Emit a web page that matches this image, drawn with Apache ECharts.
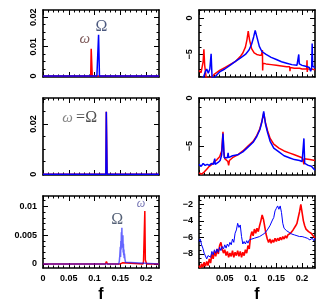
<!DOCTYPE html>
<html><head><meta charset="utf-8">
<script src="https://cdn.jsdelivr.net/npm/echarts@6/dist/echarts.min.js"></script>
<style>html,body{margin:0;padding:0;background:#fff}#c{width:334px;height:304px}</style>
</head><body><div id="c"></div>
<script>
// ---------- tick values / labels ----------
const xMajor = [0, 0.05, 0.1, 0.15, 0.2];
const xMinor = [0.01,0.02,0.03,0.04,0.06,0.07,0.08,0.09,0.11,0.12,0.13,0.14,0.16,0.17,0.18,0.19,0.21,0.22];
const xLabelsLeft = [0, 0.05, 0.1, 0.15, 0.2];
const xLabelsRight = [0.05, 0.1, 0.15, 0.2];

const tlYMajor = [0, 0.01, 0.02];
const tlYMinor = [0.0025, 0.005, 0.0075, 0.0125, 0.015, 0.0175];
const mlYMajor = [0, 0.02];
const mlYMinor = [0.005, 0.01, 0.015, 0.025, 0.03];
const blYMajor = [0, 0.005, 0.01];
const blYMinor = [0.001,0.002,0.003,0.004,0.006,0.007,0.008,0.009,0.011];
const trYMajor = [0, -5];
const trYMinor = [1, -1, -2, -3, -4, -6, -7, -8];
const mrYMajor = [0, -5];
const mrYMinor = [-1, -2, -3, -4, -6, -7];
const brYMajor = [-2, -4, -6, -8];
const brYMinor = [-1.5, -2.5, -3, -3.5, -4.5, -5, -5.5, -6.5, -7, -7.5, -8.5, -9, -9.5];

// ---------- series data ----------
// top-left (linear power)
const tlRedF  = [0, 0.0925, 0.0935, 0.0945, 0.0955, 0.225];
const tlRedV  = [0, 0, 0.0093, 0.0093, 0, 0];
const tlBlueF = [0, 0.1045, 0.105, 0.1055, 0.107, 0.1078, 0.1085, 0.1095, 0.225];
const tlBlueV = [0, 0, 0.0006, 0, 0, 0.0141, 0.0141, 0, 0];
// middle-left
const mlRedF  = [0, 0.122, 0.1228, 0.1235, 0.1243, 0.225];
const mlRedV  = [0, 0, 0.0248, 0.0248, 0, 0];
const mlBlueF = [0, 0.122, 0.1228, 0.1235, 0.1243, 0.225];
const mlBlueV = [0, 0, 0.0248, 0.0248, 0, 0];
// bottom-left
const blRedF  = [0, 0.121, 0.122, 0.123, 0.124, 0.125, 0.15, 0.152, 0.154, 0.156, 0.194, 0.195, 0.196, 0.197, 0.1975, 0.198, 0.1985, 0.199, 0.2, 0.201, 0.225];
const blRedV  = [0, 0, 0.0002, 0.0004, 0.0002, 0, 0, 0.0002, 0.0002, 0, 0, 0.0005, 0.0006, 0.0007, 0.0092, 0.0092, 0.0007, 0.0006, 0.0005, 0, 0];
const blBlueF = [0, 0.147, 0.148, 0.149, 0.15, 0.1505, 0.151, 0.1515, 0.152, 0.1525, 0.153, 0.1535, 0.154, 0.1545, 0.155, 0.1555, 0.156, 0.1565, 0.157, 0.1575, 0.158, 0.159, 0.16, 0.161, 0.225];
const blBlueV = [0, 0, 0.0005, 0.0015, 0.003, 0.0012, 0.004, 0.0025, 0.0055, 0.0035, 0.0063, 0.003, 0.0048, 0.0028, 0.005, 0.002, 0.0035, 0.0015, 0.0025, 0.001, 0.0018, 0.0008, 0.0003, 0, 0];

// top-right (log power)
const trRedF = [0, 0.004, 0.008, 0.0095, 0.011, 0.014, 0.018, 0.022, 0.026, 0.03, 0.04, 0.05, 0.06, 0.07, 0.08, 0.085, 0.09, 0.093, 0.0955, 0.098, 0.102, 0.107, 0.112, 0.117, 0.121, 0.123, 0.1235, 0.124, 0.126, 0.13, 0.14, 0.15, 0.16, 0.17, 0.176, 0.1765, 0.177, 0.178, 0.185, 0.195, 0.2, 0.205, 0.209, 0.2095, 0.21, 0.2105, 0.211, 0.218, 0.225];
const trRedV = [-7.2, -7.5, -6.0, -4.3, -6.5, -8.2, -8.3, -8.2, -8.0, -7.7, -7.2, -6.8, -6.4, -6.0, -5.3, -4.8, -4.0, -3.0, -1.8, -3.0, -4.2, -4.8, -5.0, -5.1, -5.1, -4.4, -7.2, -6.2, -6.2, -6.3, -6.4, -6.5, -6.6, -6.7, -6.7, -7.3, -6.8, -6.8, -6.9, -6.9, -7.0, -7.0, -7.0, -5.8, -7.4, -7.0, -7.0, -7.0, -7.1];
const trBlueF = [0, 0.008, 0.012, 0.015, 0.018, 0.021, 0.0235, 0.0255, 0.028, 0.032, 0.04, 0.05, 0.06, 0.07, 0.08, 0.09, 0.097, 0.102, 0.106, 0.109, 0.1105, 0.113, 0.117, 0.122, 0.13, 0.14, 0.15, 0.16, 0.17, 0.18, 0.19, 0.1925, 0.1935, 0.1945, 0.197, 0.2, 0.205, 0.21, 0.214, 0.2165, 0.2185, 0.2195, 0.2205, 0.222, 0.225];
const trBlueV = [-8.5, -8.3, -7.4, -7.0, -7.6, -7.0, -4.9, -8.5, -8.4, -8.0, -7.4, -7.0, -6.5, -6.0, -5.5, -5.0, -4.4, -3.6, -2.6, -1.7, -1.6, -2.8, -3.9, -4.6, -5.0, -5.4, -5.7, -6.0, -6.2, -6.4, -6.5, -6.5, -5.0, -6.3, -6.4, -6.5, -6.6, -6.7, -6.8, -7.3, -6.9, -3.5, -6.6, -6.7, -6.8];
// middle-right
const mrRedF = [0, 0.005, 0.01, 0.015, 0.02, 0.025, 0.03, 0.035, 0.04, 0.044, 0.0465, 0.048, 0.05, 0.053, 0.056, 0.0575, 0.059, 0.065, 0.075, 0.085, 0.095, 0.105, 0.112, 0.118, 0.122, 0.1255, 0.129, 0.133, 0.138, 0.145, 0.155, 0.165, 0.175, 0.185, 0.195, 0.2, 0.203, 0.2035, 0.204, 0.207, 0.215, 0.225];
const mrRedV = [-7.8, -7.9, -7.7, -7.4, -7.1, -6.9, -6.6, -6.4, -6.1, -5.5, -3.5, -5.6, -6.3, -6.5, -6.6, -7.0, -6.5, -6.2, -5.9, -5.5, -5.0, -4.5, -3.9, -3.2, -2.4, -1.6, -2.6, -3.4, -4.2, -4.8, -5.2, -5.5, -5.7, -5.9, -6.1, -6.2, -6.2, -6.9, -6.3, -6.3, -6.4, -6.5];
const mrBlueF = [0, 0.004, 0.008, 0.012, 0.016, 0.02, 0.024, 0.028, 0.0305, 0.0315, 0.033, 0.037, 0.041, 0.044, 0.0465, 0.049, 0.052, 0.055, 0.0565, 0.0575, 0.06, 0.065, 0.075, 0.085, 0.095, 0.105, 0.112, 0.118, 0.122, 0.1255, 0.129, 0.133, 0.138, 0.145, 0.155, 0.165, 0.175, 0.185, 0.195, 0.2, 0.2025, 0.2035, 0.205, 0.208, 0.212, 0.215, 0.218, 0.221, 0.225];
const mrBlueV = [-6.9, -7.1, -6.8, -7.0, -6.9, -7.0, -6.8, -6.9, -6.3, -6.9, -6.8, -6.7, -6.5, -5.9, -3.7, -6.2, -6.3, -6.2, -5.7, -6.2, -6.1, -6.0, -5.9, -5.6, -5.1, -4.6, -4.0, -3.3, -2.5, -1.4, -2.7, -3.6, -4.5, -5.2, -5.6, -6.0, -6.2, -6.4, -6.5, -6.6, -6.7, -4.2, -6.8, -6.9, -7.0, -6.9, -7.1, -7.3, -7.5];
// bottom-right
const brF = [0,0.0025,0.005,0.0075,0.01,0.0125,0.015,0.0175,0.02,0.0225,0.025,0.0275,0.03,0.0325,0.035,0.0375,0.04,0.0425,0.045,0.0475,0.05,0.0525,0.055,0.0575,0.06,0.0625,0.065,0.0675,0.07,0.0725,0.075,0.0775,0.08,0.0825,0.085,0.0875,0.09,0.0925,0.095,0.0975,0.1,0.1025,0.105,0.1075,0.11,0.1125,0.115,0.1175,0.12,0.1225,0.125,0.1275,0.13,0.1325,0.135,0.1375,0.14,0.1425,0.145,0.1475,0.15,0.1525,0.155,0.1575,0.16,0.1625,0.165,0.1675,0.17,0.1725,0.175,0.1775,0.18,0.1825,0.185,0.1875,0.19,0.1925,0.195,0.1975,0.2,0.2025,0.205,0.2075,0.21,0.2125,0.215,0.2175,0.22,0.2225,0.225];
const brRedV = [-9.4,-9.7,-9.2,-9.6,-9.0,-9.5,-8.9,-9.4,-8.6,-9.1,
  -8.0,-8.6,-7.7,-8.3,-7.4,-8.0,-7.0,-6.6,-7.4,-7.9,
  -7.5,-8.2,-7.7,-8.4,-7.9,-8.3,-7.6,-8.4,-7.8,-8.2,
  -7.6,-8.3,-7.7,-8.4,-7.8,-8.2,-7.5,-7.9,-7.0,-7.4,
  -5.9,-5.3,-5.8,-5.0,-5.5,-4.9,-5.3,-4.6,-4.0,-3.3,
  -3.8,-4.7,-5.6,-6.2,-6.6,-6.2,-6.7,-6.3,-6.6,-6.1,
  -6.5,-6.1,-6.4,-6.0,-6.3,-5.9,-6.2,-5.8,-6.1,-5.7,
  -5.9,-5.5,-5.6,-5.1,-5.3,-4.6,-4.3,-3.6,-2.9,-2.0,
  -3.0,-4.0,-4.6,-5.0,-4.9,-5.3,-5.2,-5.5,-5.7,-5.9,-6.1];
const brBlueV = [-6.5,-6.2,-6.9,-7.3,-7.9,-8.1,-8.6,-8.2,-8.1,-8.4,
  -7.7,-8.1,-7.5,-7.9,-7.4,-7.8,-7.2,-7.6,-7.1,-7.4,
  -6.9,-7.3,-6.8,-7.1,-6.6,-6.9,-6.2,-6.6,-5.5,-5.1,
  -4.3,-4.8,-4.5,-5.9,-6.8,-6.5,-6.8,-6.4,-6.7,-6.3,
  -6.5,-6.2,-6.4,-6.1,-6.3,-6.0,-6.1,-5.9,-6.0,-5.7,
  -5.8,-5.5,-5.5,-5.1,-5.1,-4.6,-4.5,-3.9,-3.6,-2.8,
  -2.5,-2.2,-2.6,-2.2,-3.0,-4.3,-4.9,-4.9,-5.2,-5.1,
  -5.4,-5.3,-5.6,-5.5,-5.7,-5.6,-5.8,-5.7,-5.9,-5.7,
  -5.9,-5.8,-6.0,-5.9,-6.1,-6.0,-6.3,-6.4,-6.1,-6.4,-6.1];

// annotation texts and their anchor (data coordinates)
const notesTL = [{t:'ω', at:[0.081, 0.0127], k:'w1'}, {t:'Ω', at:[0.1135, 0.0168], k:'O1'}];
const notesML = [{t:'{w|ω} {e|=Ω}', at:[0.071, 0.0223], k:'rich'}];
const notesBL = [{t:'Ω', at:[0.144, 0.0077], k:'O3'}, {t:'ω', at:[0.19, 0.0105], k:'w3'}];

// ---------- styling / layout ----------
const RED = '#ff0000', BLUE = '#0000ff';
const zip = (f, v) => f.map((x, i) => [x, v[i]]);
const noteStyles = {
  w1: {color:'#5c3030', fontSize:15, fontStyle:'italic', fontFamily:'Liberation Serif'},
  O1: {color:'#1f2f5f', fontSize:16, fontFamily:'Liberation Serif'},
  O3: {color:'#2a3a55', fontSize:16, fontFamily:'Liberation Serif'},
  w3: {color:'#5050a0', fontSize:12, fontStyle:'italic', fontFamily:'Liberation Serif'},
  rich: {rich:{w:{color:'#666', fontSize:15, fontStyle:'italic', fontFamily:'Liberation Serif'},
               e:{color:'#222', fontSize:16, fontFamily:'Liberation Serif'}}}
};

const panels = [
  {grid:{left:43, top:10, width:116, height:67}, y:[-0.0003, 0.0225], yMaj:tlYMajor, yMin:tlYMinor, yLab:tlYMajor, rot:90, xLab:null,
   series:[[tlRedF, tlRedV, RED, 1, 1.5], [tlBlueF, tlBlueV, BLUE, 1, 1.5]], notes:notesTL},
  {grid:{left:199, top:10, width:116, height:67}, y:[-8.1, 1.1], yMaj:trYMajor, yMin:trYMinor, yLab:trYMajor, rot:90, xLab:null,
   series:[[trRedF, trRedV, RED, 1, 1.5], [trBlueF, trBlueV, BLUE, 1, 1.5]], notes:[]},
  {grid:{left:43, top:98, width:116, height:77}, y:[-0.0003, 0.0303], yMaj:mlYMajor, yMin:mlYMinor, yLab:mlYMajor, rot:90, xLab:null,
   series:[[mlRedF, mlRedV, RED, 1, 1.5], [mlBlueF, mlBlueV, BLUE, 1, 1.5]], notes:notesML},
  {grid:{left:199, top:98, width:116, height:77}, y:[-8, 0], yMaj:mrYMajor, yMin:mrYMinor, yLab:mrYMajor, rot:90, xLab:null,
   series:[[mrRedF, mrRedV, RED, 1, 1.5], [mrBlueF, mrBlueV, BLUE, 1, 1.5]], notes:[]},
  {grid:{left:43, top:196, width:116, height:75}, y:[-0.0007, 0.0118], yMaj:blYMajor, yMin:blYMinor, yLab:blYMajor, rot:0, xLab:xLabelsLeft,
   series:[[blRedF, blRedV, RED, 1, 1.5], [blBlueF, blBlueV, BLUE, 0.6, 1.5]], notes:notesBL},
  {grid:{left:199, top:196, width:116, height:75}, y:[-9.7, -1], yMaj:brYMajor, yMin:brYMinor, yLab:brYMajor, rot:0, xLab:xLabelsRight,
   series:[[brF, brRedV, RED, 1, 1.6], [brF, brBlueV, BLUE, 1, 1]], notes:[]}
];

const labelFont = {color:'#000', fontSize:9, fontWeight:'bold', fontFamily:'Liberation Sans'};
const fmt = v => String(v).replace('-', '\u2212');

function axis(kind, g, pos, range, ticks, len, labels, showLine, rot, nameF) {
  const a = {
    type:'value', gridIndex:g, position:pos, min:range[0], max:range[1],
    axisLine:{show:showLine, onZero:false, lineStyle:{color:'#000', width:1.6}},
    axisTick:{show:true, inside:true, length:len, customValues:ticks, lineStyle:{color:'#000', width:1}},
    axisLabel:{show:!!labels, customValues:labels || [], formatter:fmt, rotate:rot || 0,
               margin: kind === 'x' ? 6 : (rot ? 5 : 6), showMinLabel:true, showMaxLabel:true, ...labelFont},
    splitLine:{show:false}, minorTick:{show:false}, minorSplitLine:{show:false}
  };
  if (nameF) {
    a.name = 'f'; a.nameLocation = 'middle'; a.nameGap = 19;
    a.nameTextStyle = {fontSize:16, fontWeight:'bold', fontFamily:'Liberation Sans', color:'#000'};
  }
  return a;
}

const option = {animation:false, backgroundColor:'#fff', grid:[], xAxis:[], yAxis:[], series:[]};
panels.forEach((p, g) => {
  option.grid.push({...p.grid, containLabel:false});
  const xr = [0, 0.225];
  option.xAxis.push(axis('x', g, 'bottom', xr, xMajor, 5, p.xLab, true, 0, !!p.xLab));
  option.xAxis.push(axis('x', g, 'bottom', xr, xMinor, 2.5, null, false));
  option.xAxis.push(axis('x', g, 'top', xr, xMajor, 5, null, true));
  option.xAxis.push(axis('x', g, 'top', xr, xMinor, 2.5, null, false));
  option.yAxis.push(axis('y', g, 'left', p.y, p.yMaj, 5, p.yLab, true, p.rot));
  option.yAxis.push(axis('y', g, 'left', p.y, p.yMin, 2.5, null, false));
  option.yAxis.push(axis('y', g, 'right', p.y, p.yMaj, 5, null, true));
  option.yAxis.push(axis('y', g, 'right', p.y, p.yMin, 2.5, null, false));
  p.series.forEach(([f, v, c, op, w]) => {
    option.series.push({type:'line', xAxisIndex:4*g, yAxisIndex:4*g, data:zip(f, v),
      symbol:'none', showSymbol:false, clip:true, silent:true,
      lineStyle:{color:c, width:w, opacity:op}, itemStyle:{color:c}});
  });
  p.notes.forEach(n => {
    option.series.push({type:'scatter', xAxisIndex:4*g, yAxisIndex:4*g, silent:true,
      symbolSize:1, itemStyle:{color:'rgba(0,0,0,0)'}, z:10,
      data:[n.at],
      label:{show:true, position:'inside', formatter:n.t, ...noteStyles[n.k]}});
  });
});

const chart = echarts.init(document.getElementById('c'), null, {renderer:'canvas'});
chart.setOption(option);
</script></body></html>
